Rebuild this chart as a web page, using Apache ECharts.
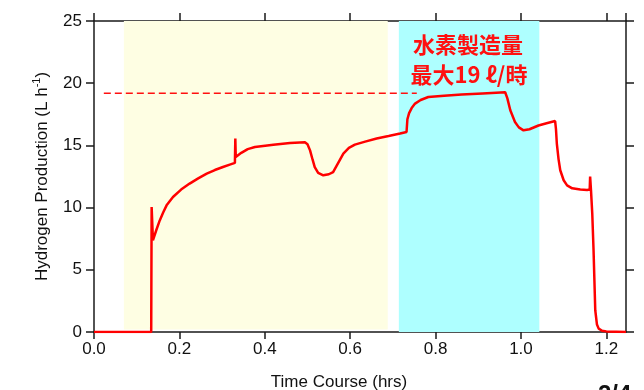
<!DOCTYPE html>
<html>
<head>
<meta charset="utf-8">
<script src="https://cdn.jsdelivr.net/npm/echarts@6/dist/echarts.min.js"></script>
<style>
  html, body { margin: 0; padding: 0; background: #fff; }
  #chart { width: 644px; height: 390px; }
</style>
</head>
<body>
<div id="chart"></div>
<script>
// Hydrogen production rate over the run (hours vs L/h)
const timeHrs = [
  0, 0.134, 0.135, 0.138, 0.146, 0.154, 0.162, 0.170, 0.185, 0.204, 0.224, 0.244, 0.264, 0.283, 0.302, 0.318, 0.330,
  0.331, 0.332, 0.345, 0.360, 0.377, 0.420, 0.459, 0.494, 0.500, 0.506, 0.512, 0.517, 0.525, 0.537, 0.550, 0.560,
  0.572, 0.584, 0.597, 0.611, 0.635, 0.662, 0.690, 0.717, 0.732, 0.734, 0.738, 0.744, 0.752, 0.765, 0.783, 0.820,
  0.861, 0.910, 0.963, 0.968, 0.975, 0.986, 0.995, 1.006, 1.020, 1.041, 1.060, 1.080, 1.082, 1.084, 1.088, 1.092,
  1.100, 1.108, 1.120, 1.139, 1.155, 1.161, 1.162, 1.164, 1.167, 1.170, 1.174, 1.178, 1.182, 1.190, 1.200, 1.246
];
const h2Rate = [
  0, 0, 10.05, 7.37, 8.2, 8.97, 9.6, 10.18, 10.85, 11.45, 11.93, 12.35, 12.73, 13.02, 13.26, 13.45, 13.59,
  15.55, 14.07, 14.4, 14.7, 14.87, 15.05, 15.19, 15.25, 15.1, 14.6, 13.85, 13.26, 12.8, 12.6, 12.68, 12.86,
  13.6, 14.34, 14.8, 15.06, 15.3, 15.55, 15.75, 15.95, 16.08, 17.1, 17.6, 18.0, 18.36, 18.65, 18.89, 19.0,
  19.1, 19.18, 19.27, 18.8, 17.82, 16.88, 16.45, 16.21, 16.3, 16.6, 16.78, 16.96, 16.3, 15.15, 13.9, 13.0,
  12.2, 11.79, 11.55, 11.45, 11.42, 11.45, 12.5, 11.4, 9.5, 6.57, 1.75, 0.6, 0.27, 0.1, 0.05, 0
];

// Reference level for the peak rate
const peakLevel = 19.2;
const peakLineTime = [0.023, 0.756];

// Operating phases (hours)
const phaseA = [0.070, 0.688];
const phaseB = [0.714, 1.043];

const xTicks = { min: 0, max: 1.246, interval: 0.2 };
const yTicks = { min: 0, max: 25, interval: 5 };

const series = timeHrs.map((t, i) => [t, h2Rate[i]]);
const peakLine = peakLineTime.map(t => [t, peakLevel]);

const chart = echarts.init(document.getElementById('chart'), null, { renderer: 'canvas' });
const axisCol = '#1a1a1a';
const fontFam = '"Liberation Sans", Arial, sans-serif';

chart.setOption({
  animation: false,
  grid: { left: 94, right: 18, top: 21, bottom: 58, containLabel: false, outerBoundsMode: 'none' },
  xAxis: [
    {
      type: 'value', min: xTicks.min, max: xTicks.max, interval: xTicks.interval,
      name: 'Time Course (hrs)', nameLocation: 'middle', nameGap: 42,
      nameTextStyle: { fontSize: 17, color: '#111', fontFamily: fontFam, padding: [0, 42, 0, 0] },
      axisLine: { show: true, onZero: false, lineStyle: { color: axisCol, width: 1.5 } },
      axisTick: { show: true, inside: false, length: 7, lineStyle: { color: axisCol, width: 1.5 } },
      axisLabel: { fontSize: 17, color: '#111', fontFamily: fontFam, margin: 9, showMaxLabel: false,
        formatter: v => v.toFixed(1) },
      splitLine: { show: false }
    },
    {
      type: 'value', position: 'top', min: xTicks.min, max: xTicks.max, interval: xTicks.interval,
      axisLine: { show: true, onZero: false, lineStyle: { color: axisCol, width: 1.5 } },
      axisTick: { show: true, inside: false, length: 8, lineStyle: { color: axisCol, width: 1.5 } },
      axisLabel: { show: false },
      splitLine: { show: false }
    }
  ],
  yAxis: [
    {
      type: 'value', min: yTicks.min, max: yTicks.max, interval: yTicks.interval,
      name: '{n|Hydrogen Production (L h}{s|-1}{n|)}', nameLocation: 'middle', nameGap: 41, nameRotate: 90,
      nameTextStyle: {
        color: '#111', fontFamily: fontFam,
        rich: {
          n: { fontSize: 17, color: '#111', fontFamily: fontFam, lineHeight: 22 },
          s: { fontSize: 11, color: '#111', fontFamily: fontFam, verticalAlign: 'top', lineHeight: 22, padding: [0, 0, 8, 0] }
        }
      },
      axisLine: { show: true, onZero: false, lineStyle: { color: axisCol, width: 1.5 } },
      axisTick: { show: true, inside: false, length: 8, lineStyle: { color: axisCol, width: 1.5 } },
      axisLabel: { fontSize: 17, color: '#111', fontFamily: fontFam, margin: 12 },
      splitLine: { show: false }
    },
    {
      type: 'value', position: 'right', min: yTicks.min, max: yTicks.max, interval: yTicks.interval,
      axisLine: { show: true, onZero: false, lineStyle: { color: axisCol, width: 1.5 } },
      axisTick: { show: true, inside: false, length: 8, lineStyle: { color: axisCol, width: 1.5 } },
      axisLabel: { show: false },
      splitLine: { show: false }
    }
  ],
  series: [
    {
      name: 'phases', type: 'line', data: [], silent: true,
      markArea: {
        silent: true,
        data: [
          [{ xAxis: phaseA[0], yAxis: 0.2, itemStyle: { color: '#FEFEE3' } }, { xAxis: phaseA[1], yAxis: 25 }],
          [{ xAxis: phaseB[0], yAxis: -0.1, itemStyle: { color: '#AEFFFF' } }, { xAxis: phaseB[1], yAxis: 25 }]
        ]
      }
    },
    {
      name: 'peak', type: 'line', data: peakLine, symbol: 'none', silent: true,
      lineStyle: { color: '#FF1010', width: 1.5, type: [7, 4] }, z: 3
    },
    {
      name: 'H2', type: 'line', data: series, symbol: 'none', smooth: false,
      lineStyle: { color: '#FF0000', width: 2.5 }, z: 4
    }
  ],
  graphic: [
    {
      type: 'text', x: 468, y: 45, z: 10,
      style: { text: '水素製造量', align: 'center', verticalAlign: 'middle',
        font: 'bold 22px "Noto Sans CJK JP"', fill: '#FF1010' }
    },
    {
      type: 'text', x: 469, y: 75, z: 10,
      style: { text: '最大19 ℓ/時', align: 'center', verticalAlign: 'middle',
        font: 'bold 22px "Noto Sans CJK JP"', fill: '#FF1010' }
    },
    {
      type: 'text', x: 598, y: 383, z: 10,
      style: { text: '2/4', align: 'left', verticalAlign: 'top',
        font: 'bold 24px "Liberation Sans", Arial, sans-serif', fill: '#111' }
    }
  ]
});
</script>
</body>
</html>
